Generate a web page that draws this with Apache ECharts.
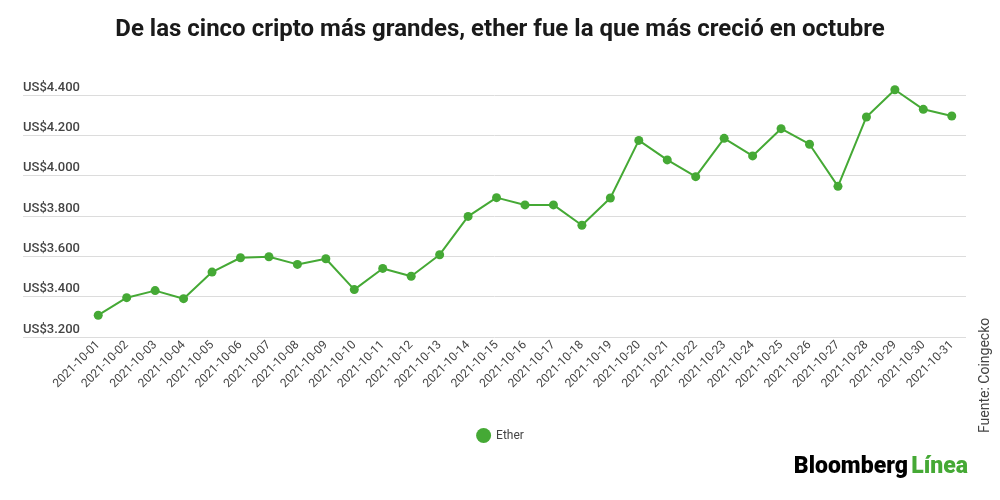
<!DOCTYPE html>
<html>
	<head>
		<meta charset="UTF-8">
		<title></title>
		<style type="text/css">
		  html, body{
		  	margin: 0;
		  	padding: 0;
		  	background: #fff;
		  }
		  #chart{
		  	width: 1000px;
		  	height: 500px;
		  }
		</style>
	</head>
	<body>
	  <div id="chart"></div>
	  <script src="https://cdn.jsdelivr.net/npm/echarts@6/dist/echarts.min.js" type="text/javascript"></script>
	  <script type="text/javascript">
	  	var dates = ['2021-10-01', '2021-10-02', '2021-10-03', '2021-10-04', '2021-10-05',
	  	  '2021-10-06', '2021-10-07', '2021-10-08', '2021-10-09', '2021-10-10', '2021-10-11',
	  	  '2021-10-12', '2021-10-13', '2021-10-14', '2021-10-15', '2021-10-16', '2021-10-17',
	  	  '2021-10-18', '2021-10-19', '2021-10-20', '2021-10-21', '2021-10-22', '2021-10-23',
	  	  '2021-10-24', '2021-10-25', '2021-10-26', '2021-10-27', '2021-10-28', '2021-10-29',
	  	  '2021-10-30', '2021-10-31'];
	  	var ether = [3308, 3395, 3430, 3390, 3522, 3593, 3598, 3560, 3588, 3435, 3540,
	  	  3501, 3608, 3798, 3891, 3855, 3855, 3754, 3889, 4175, 4078, 3995, 4185,
	  	  4098, 4233, 4156, 3947, 4291, 4426, 4329, 4296];
	  	var yTicks = [3200, 3400, 3600, 3800, 4000, 4200, 4400];

	  	var green = '#45a935',
	  	    textColor = '#444',
	  	    font = 'Roboto, "Noto Sans", sans-serif';

	  	function money(v){
	  	  return 'US$' + String(v).replace(/\B(?=(\d{3})+(?!\d))/g, '.');
	  	}

	  	var chart = echarts.init(document.getElementById('chart'));
	  	chart.setOption({
	  	  animation: false,
	  	  title: {
	  	  	text: 'De las cinco cripto más grandes, ether fue la que más creció en octubre',
	  	  	left: 'center',
	  	  	top: 13,
	  	  	textStyle: {
	  	  	  color: '#1a1a1a',
	  	  	  fontSize: 24,
	  	  	  fontWeight: 'bold',
	  	  	  fontFamily: font
	  	  	}
	  	  },
	  	  legend: {
	  	  	data: ['Ether'],
	  	  	left: 'center',
	  	  	top: 423,
	  	  	icon: 'circle',
	  	  	itemWidth: 15,
	  	  	itemHeight: 15,
	  	  	textStyle: {
	  	  	  color: textColor,
	  	  	  fontSize: 12,
	  	  	  fontFamily: font
	  	  	}
	  	  },
	  	  grid: [
	  	  	{left: 23, right: 34, top: 95, bottom: 163},   // gridlines + labels
	  	  	{left: 84, right: 34, top: 95, bottom: 163}    // the line
	  	  ],
	  	  xAxis: [
	  	  	{gridIndex: 0, type: 'value', show: false},
	  	  	{
	  	  	  gridIndex: 1,
	  	  	  type: 'category',
	  	  	  data: dates,
	  	  	  axisLine: {show: false},
	  	  	  axisTick: {show: false},
	  	  	  axisLabel: {
	  	  	  	rotate: 45,
	  	  	  	interval: 0,
	  	  	  	margin: 6,
	  	  	  	color: textColor,
	  	  	  	fontSize: 12,
	  	  	  	fontFamily: font
	  	  	  }
	  	  	}
	  	  ],
	  	  yAxis: [
	  	  	{
	  	  	  gridIndex: 0,
	  	  	  type: 'value',
	  	  	  min: yTicks[0],
	  	  	  max: yTicks[yTicks.length - 1],
	  	  	  interval: 200,
	  	  	  axisLine: {show: false},
	  	  	  axisTick: {show: false},
	  	  	  splitLine: {lineStyle: {color: '#dcdcdc', width: 1}},
	  	  	  axisLabel: {
	  	  	  	inside: true,
	  	  	  	margin: 0,
	  	  	  	verticalAlign: 'bottom',
	  	  	  	padding: [0, 0, 1, 0],
	  	  	  	color: textColor,
	  	  	  	fontSize: 13,
	  	  	  	fontWeight: 500,
	  	  	  	fontFamily: font,
	  	  	  	formatter: money
	  	  	  }
	  	  	},
	  	  	{
	  	  	  gridIndex: 1,
	  	  	  type: 'value',
	  	  	  min: yTicks[0],
	  	  	  max: yTicks[yTicks.length - 1],
	  	  	  interval: 200,
	  	  	  show: false,
	  	  	  splitLine: {show: false}
	  	  	}
	  	  ],
	  	  series: [
	  	  	{
	  	  	  name: 'Ether',
	  	  	  type: 'line',
	  	  	  xAxisIndex: 1,
	  	  	  yAxisIndex: 1,
	  	  	  data: ether,
	  	  	  clip: false,
	  	  	  symbol: 'circle',
	  	  	  symbolSize: 9,
	  	  	  itemStyle: {color: green},
	  	  	  lineStyle: {color: green, width: 2}
	  	  	}
	  	  ],
	  	  graphic: [
	  	  	{
	  	  	  type: 'text',
	  	  	  x: 985,
	  	  	  y: 433,
	  	  	  rotation: Math.PI / 2,
	  	  	  style: {
	  	  	  	text: 'Fuente: Coingecko',
	  	  	  	fill: textColor,
	  	  	  	font: '14px ' + font,
	  	  	  	align: 'left',
	  	  	  	verticalAlign: 'middle'
	  	  	  }
	  	  	},
	  	  	{
	  	  	  type: 'text',
	  	  	  right: 32,
	  	  	  top: 456,
	  	  	  style: {
	  	  	  	text: '{b|Bloomberg} {l|Línea}',
	  	  	  	rich: {
	  	  	  	  b: {fill: '#000', fontSize: 23, fontWeight: 900, fontFamily: font},
	  	  	  	  l: {fill: green, fontSize: 23, fontWeight: 900, fontFamily: font}
	  	  	  	}
	  	  	  }
	  	  	}
	  	  ]
	  	});
	  </script>
	</body>
</html>
